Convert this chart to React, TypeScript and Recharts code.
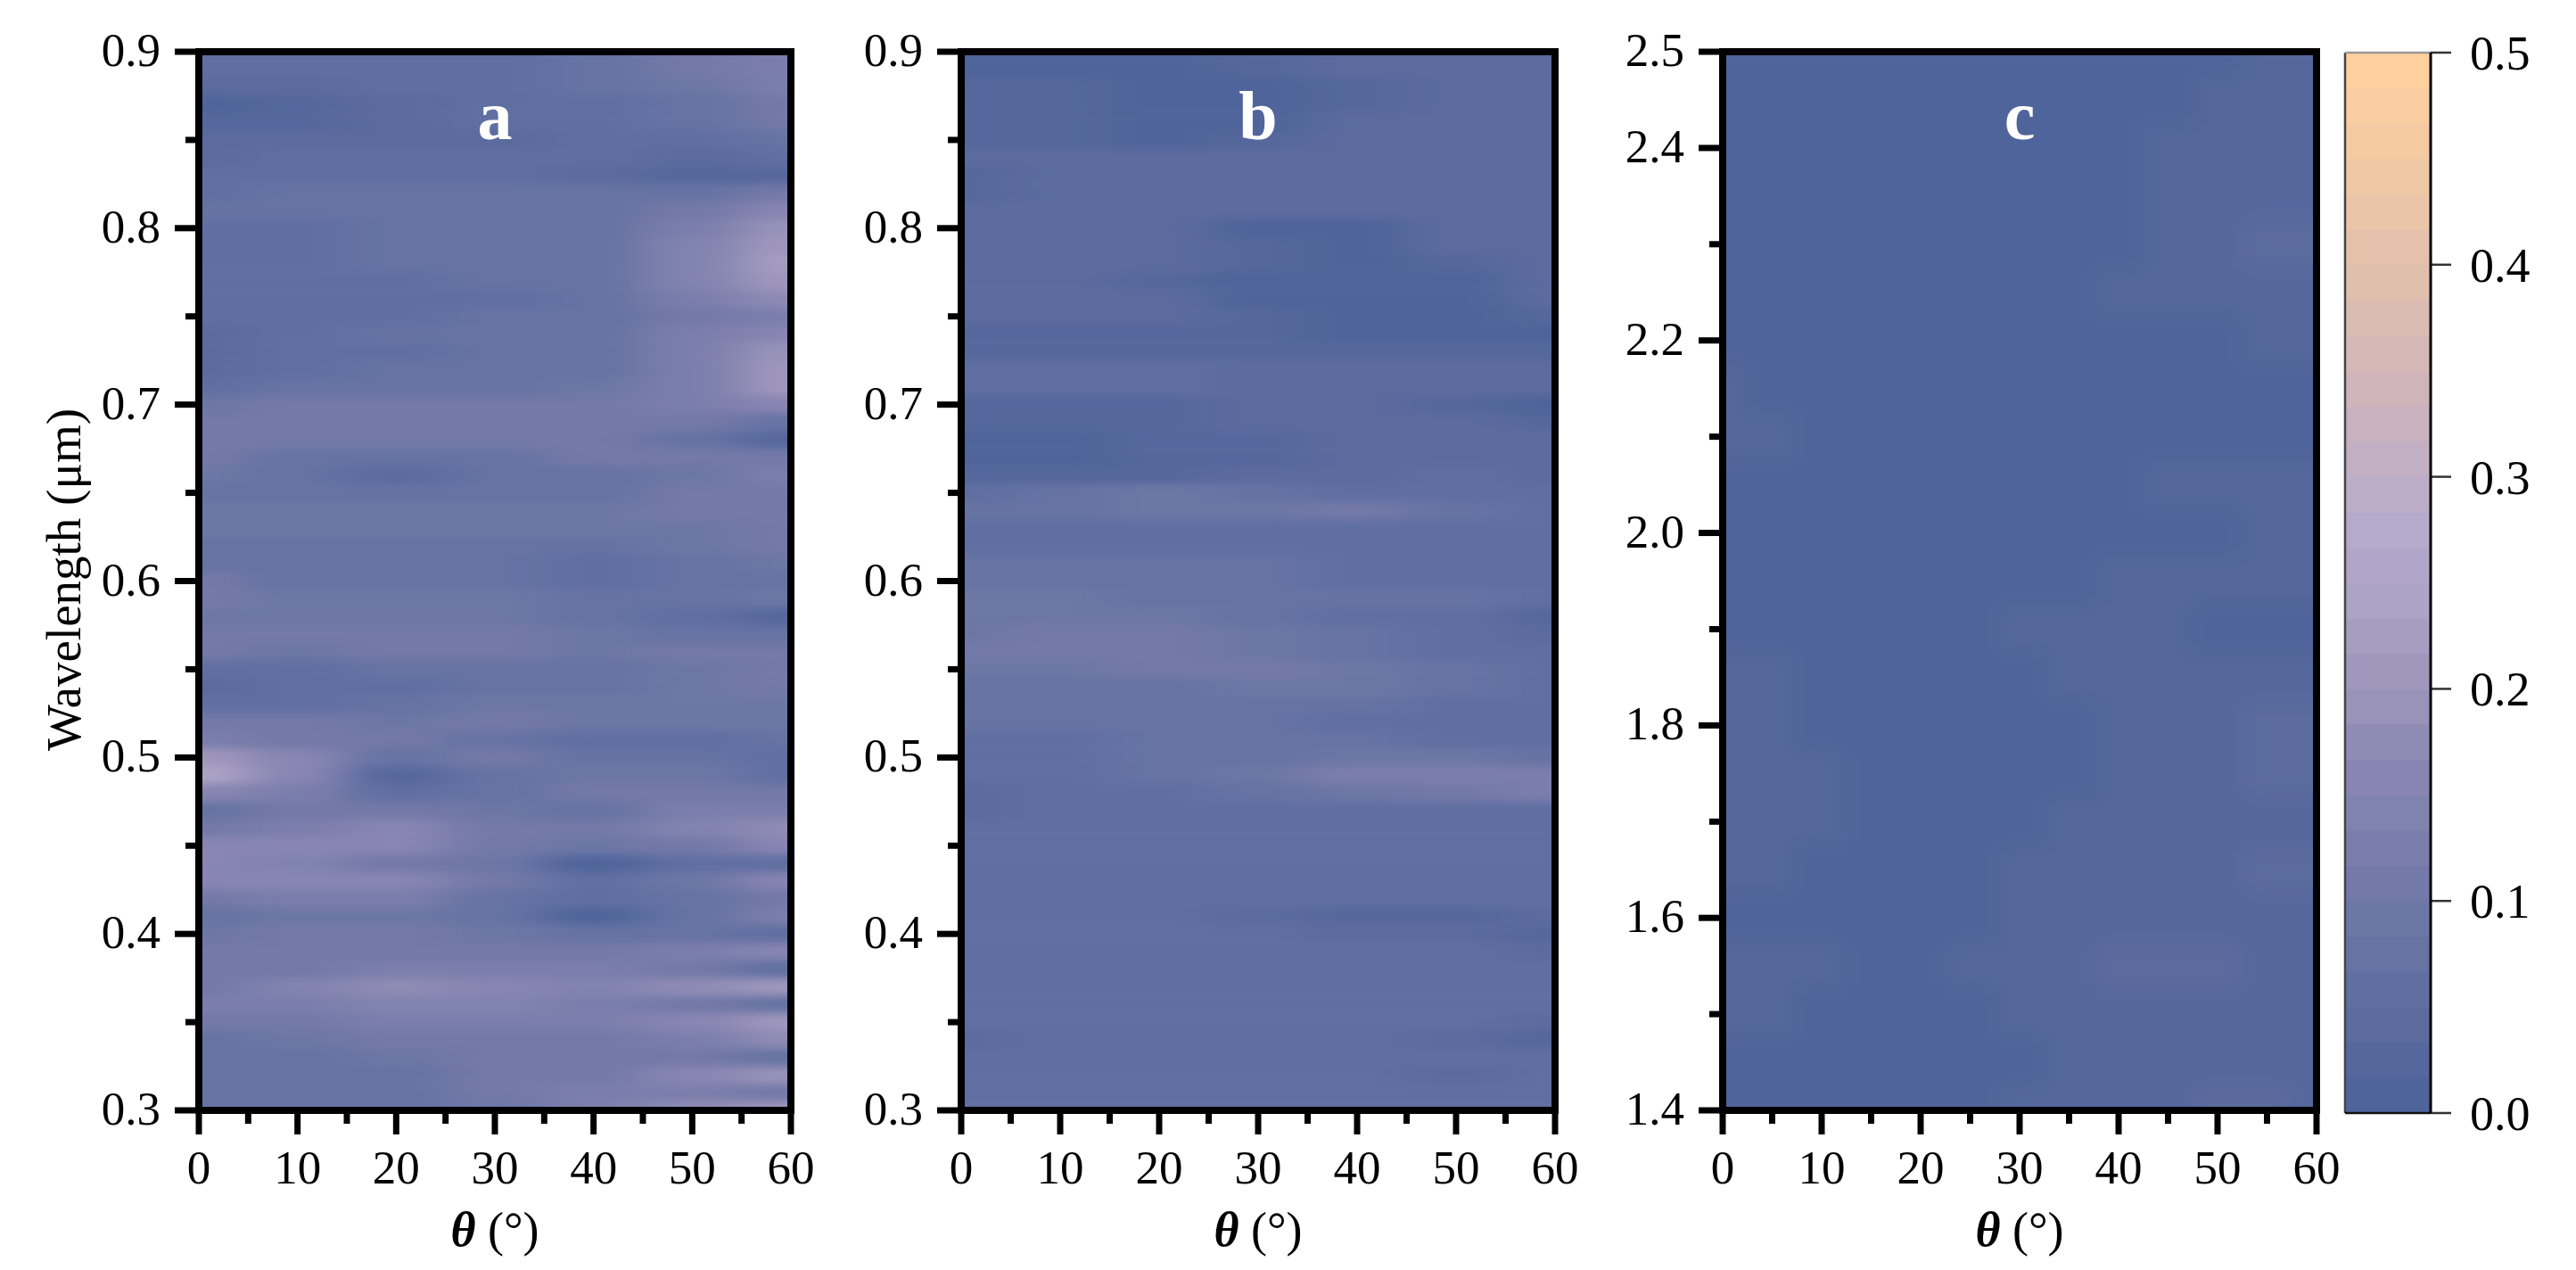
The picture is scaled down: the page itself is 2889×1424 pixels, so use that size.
// App.tsx - three angular reflectance contour maps with a shared colour scale
import React from 'react';
import { ScatterChart, Scatter, BarChart, Bar, XAxis, YAxis } from 'recharts';

const FONT = '"Liberation Serif", serif';

// colour scale, bottom to top, 30 levels between 0 and 0.5
const colorLevels = [
  '#4f649b', '#55679c', '#5b6b9e', '#606fa1', '#6673a3', '#6d77a6', '#7379a8', '#7b7eac', '#8183af', '#8885b2',
  '#8f8bb5', '#9993b9', '#a097bd', '#a69dc1', '#ada3c6', '#b1a6ca', '#b7a9cb', '#bcadc9', '#c3afc3', '#c9b1bf',
  '#cfb4ba', '#d6b8b6', '#dbbcb2', '#e0bfae', '#e5c1ab', '#eac5a8', '#efc8a5', '#f4caa2', '#f9cda0', '#fdd09d',
];
const scaleTicks = [0, 0.1, 0.2, 0.3, 0.4, 0.5];

const thetaTicks = [0, 5, 10, 15, 20, 25, 30, 35, 40, 45, 50, 55, 60];
const thetaLabels = [0, 10, 20, 30, 40, 50, 60];

const visTicks = [0.3, 0.35, 0.4, 0.45, 0.5, 0.55, 0.6, 0.65, 0.7, 0.75, 0.8, 0.85, 0.9];
const visLabels = [0.3, 0.4, 0.5, 0.6, 0.7, 0.8, 0.9];
const nirTicks = [1.4, 1.5, 1.6, 1.7, 1.8, 1.9, 2.0, 2.1, 2.2, 2.3, 2.4, 2.5];
const nirLabels = [1.4, 1.6, 1.8, 2.0, 2.2, 2.4, 2.5];

// panel a: rows from 0.90 down to 0.30 um, columns theta 0..60, values in percent
const thetaA = [0, 10, 20, 30, 40, 50, 60];
const wavelengthA = [
  0.9, 0.89, 0.88, 0.87, 0.86, 0.85, 0.84, 0.83, 0.82, 0.81, 0.8, 0.79, 0.78, 0.77, 0.76, 0.75, 0.74, 0.73, 0.72, 0.71,
  0.7, 0.69, 0.68, 0.67, 0.66, 0.65, 0.64, 0.63, 0.62, 0.61, 0.6, 0.59, 0.58, 0.57, 0.56, 0.55, 0.54, 0.53, 0.52, 0.51,
  0.5, 0.49, 0.48, 0.47, 0.46, 0.45, 0.44, 0.43, 0.42, 0.41, 0.4, 0.39, 0.38, 0.37, 0.36, 0.35, 0.34, 0.33, 0.32, 0.31, 0.3,
];
const valuesA = [
  [5, 5, 5, 6, 7, 10, 13], [5, 5, 5, 6, 7, 10, 13], [4, 4, 5, 5, 7, 9, 12], [1, 2, 4, 5, 6, 8, 11], [3, 3, 4, 5, 5, 7, 10],
  [4, 4, 4, 4, 5, 6, 8], [4, 5, 5, 5, 5, 4, 5], [6, 6, 6, 6, 4, 3, 2], [6, 7, 7, 7, 7, 8, 11], [7, 7, 7, 7, 7, 11, 16],
  [6, 6, 7, 7, 7, 13, 19], [5, 6, 7, 7, 7, 14, 21], [5, 6, 7, 7, 7, 14, 22], [6, 6, 6, 7, 7, 14, 21], [5, 6, 6, 6, 7, 12, 17],
  [5, 6, 6, 7, 8, 10, 13], [4, 6, 7, 7, 8, 12, 16], [4, 5, 6, 7, 8, 13, 19], [4, 6, 7, 7, 7, 12, 20], [6, 7, 8, 8, 9, 13, 20],
  [9, 10, 10, 10, 11, 13, 16], [11, 10, 10, 10, 11, 10, 8], [11, 11, 10, 10, 10, 8, 3], [10, 8, 7, 8, 10, 10, 11], [9, 7, 4, 7, 8, 9, 12],
  [8, 8, 7, 7, 8, 10, 10], [9, 9, 9, 9, 9, 10, 10], [9, 9, 9, 9, 9, 9, 10], [7, 7, 7, 8, 7, 9, 10], [8, 7, 7, 7, 6, 8, 9],
  [10, 8, 8, 7, 6, 8, 8], [10, 9, 9, 9, 8, 8, 9], [9, 9, 9, 9, 8, 5, 3], [10, 10, 10, 10, 9, 8, 8], [10, 9, 10, 10, 9, 10, 10],
  [5, 5, 7, 7, 8, 9, 10], [4, 5, 6, 7, 8, 9, 10], [6, 6, 8, 9, 9, 9, 9], [10, 10, 9, 10, 9, 9, 9], [13, 11, 10, 8, 6, 6, 7],
  [21, 15, 8, 10, 8, 7, 6], [24, 15, 3, 8, 9, 9, 6], [15, 13, 6, 7, 10, 10, 11], [8, 10, 10, 9, 7, 12, 13], [11, 13, 15, 10, 10, 14, 18],
  [16, 16, 15, 11, 9, 10, 15], [16, 14, 11, 9, 1, 6, 5], [16, 16, 16, 10, 5, 9, 15], [11, 13, 12, 8, 5, 8, 11], [8, 9, 9, 7, 1, 7, 12],
  [9, 10, 10, 9, 7, 8, 5], [10, 11, 11, 11, 10, 12, 15], [11, 11, 12, 12, 12, 10, 6], [11, 14, 17, 16, 14, 17, 21], [12, 13, 14, 14, 13, 11, 7],
  [10, 11, 12, 12, 12, 15, 20], [7, 9, 10, 11, 11, 12, 17], [7, 8, 9, 11, 11, 10, 8], [7, 7, 8, 10, 10, 15, 19], [7, 8, 8, 10, 12, 12, 10],
  [7, 7, 8, 9, 13, 18, 21],
];

// panel b: same grid as panel a
const thetaB = [0, 10, 20, 30, 40, 50, 60];
const wavelengthB = wavelengthA;
const valuesB = [
  [1, 1, 1, 3, 4, 4, 4], [1, 1, 1, 2, 4, 4, 4], [3, 2, 1, 1, 3, 4, 4], [3, 2, 1, 1, 2, 4, 4], [3, 2, 1, 1, 4, 4, 4],
  [3, 2, 1, 2, 4, 4, 4], [4, 4, 4, 4, 4, 4, 4], [2, 4, 4, 4, 4, 4, 4], [3, 4, 4, 4, 4, 4, 4], [4, 4, 4, 4, 4, 4, 4],
  [4, 4, 4, 1, 1, 4, 4], [4, 4, 4, 3, 1, 4, 4], [4, 4, 4, 2, 1, 2, 4], [4, 4, 3, 1, 1, 1, 4], [4, 4, 4, 1, 1, 1, 4],
  [4, 4, 4, 2, 1, 1, 2], [3, 3, 3, 2, 1, 1, 1], [2, 2, 3, 3, 3, 3, 2], [6, 6, 5, 4, 4, 4, 4], [6, 6, 5, 4, 4, 4, 4],
  [3, 3, 3, 4, 4, 3, 1], [3, 3, 3, 4, 4, 4, 2], [1, 1, 2, 3, 4, 4, 4], [1, 1, 2, 3, 4, 4, 4], [2, 2, 3, 4, 4, 5, 4],
  [6, 8, 9, 8, 6, 6, 5], [7, 8, 9, 9, 10, 8, 6], [5, 6, 6, 6, 6, 6, 5], [6, 6, 6, 6, 5, 5, 5], [7, 8, 8, 7, 6, 5, 5],
  [7, 7, 7, 7, 6, 5, 5], [9, 9, 8, 8, 8, 7, 6], [9, 9, 9, 7, 6, 5, 3], [9, 10, 10, 9, 7, 5, 4], [10, 11, 11, 9, 8, 6, 5],
  [9, 9, 10, 10, 9, 7, 5], [7, 8, 8, 9, 9, 8, 6], [7, 7, 8, 8, 8, 6, 5], [8, 7, 8, 8, 6, 6, 5], [5, 6, 8, 8, 8, 6, 6],
  [5, 5, 7, 8, 9, 9, 8], [5, 5, 7, 9, 12, 13, 13], [4, 5, 6, 7, 9, 11, 12], [4, 5, 5, 5, 6, 6, 6], [5, 5, 5, 5, 5, 5, 5],
  [5, 5, 5, 5, 5, 5, 5], [6, 6, 5, 5, 5, 6, 6], [6, 6, 6, 5, 6, 6, 6], [5, 5, 5, 5, 5, 5, 5], [5, 5, 5, 4, 3, 3, 4],
  [5, 5, 5, 5, 4, 4, 3], [5, 5, 5, 5, 5, 5, 4], [5, 5, 5, 5, 5, 5, 5], [6, 6, 6, 5, 5, 5, 5], [5, 6, 5, 5, 5, 5, 5],
  [5, 5, 5, 5, 5, 5, 4], [4, 5, 5, 5, 5, 4, 3], [5, 5, 5, 5, 5, 5, 5], [5, 5, 5, 5, 5, 4, 5], [6, 5, 5, 5, 5, 5, 5],
  [6, 5, 5, 5, 5, 5, 5],
];

// panel c: rows from 2.50 down to 1.40 um, columns every 5 degrees
const thetaC = thetaTicks;
const wavelengthC = [2.5, 2.45, 2.4, 2.35, 2.3, 2.25, 2.2, 2.15, 2.1, 2.05, 2.0, 1.95, 1.9, 1.85, 1.8, 1.75, 1.7, 1.65, 1.6, 1.55, 1.5, 1.45, 1.4];
const valuesC = [
  [1, 1, 1, 1, 1, 1, 1, 1, 1, 1, 1, 3, 3],
  [1, 1, 1, 1, 1, 1, 1, 1, 1, 1, 3, 3, 3],
  [1, 1, 1, 1, 1, 1, 1, 1, 1, 3, 3, 3, 3],
  [1, 1, 1, 1, 1, 1, 1, 1, 1, 3, 3, 3, 3],
  [1, 1, 1, 1, 1, 1, 1, 1, 1, 3, 3, 4, 4],
  [1, 1, 1, 1, 1, 1, 1, 1, 3, 3, 3, 3, 3],
  [1, 1, 1, 1, 1, 1, 1, 1, 1, 1, 1, 3, 3],
  [3, 1, 1, 1, 1, 1, 1, 1, 1, 1, 1, 1, 1],
  [3, 3, 1, 1, 1, 1, 1, 1, 1, 1, 1, 1, 1],
  [1, 1, 1, 1, 1, 1, 1, 1, 1, 3, 3, 3, 3],
  [1, 1, 1, 1, 1, 1, 1, 1, 1, 1, 1, 3, 3],
  [1, 1, 1, 1, 1, 1, 1, 1, 3, 3, 3, 3, 3],
  [1, 1, 1, 1, 1, 1, 3, 3, 3, 3, 1, 1, 1],
  [3, 3, 1, 1, 1, 1, 1, 3, 3, 3, 3, 3, 3],
  [3, 3, 1, 1, 1, 1, 1, 1, 3, 3, 3, 4, 4],
  [3, 3, 3, 1, 1, 1, 1, 1, 3, 3, 3, 4, 4],
  [3, 3, 3, 1, 1, 1, 1, 3, 3, 3, 3, 3, 3],
  [3, 3, 1, 1, 1, 1, 3, 3, 3, 3, 3, 4, 4],
  [1, 1, 1, 1, 1, 1, 3, 3, 3, 3, 3, 3, 3],
  [3, 3, 3, 1, 1, 3, 3, 3, 4, 4, 4, 3, 3],
  [3, 3, 1, 1, 1, 1, 3, 3, 3, 3, 3, 3, 3],
  [1, 1, 1, 1, 1, 1, 1, 3, 3, 3, 3, 3, 3],
  [1, 1, 1, 1, 1, 1, 3, 3, 3, 3, 4, 4, 3],
];

const colorFor = (percent: number) => colorLevels[Math.min(colorLevels.length - 1, Math.floor((percent / 100) * 2 * colorLevels.length))];

const PLOT_TOP = 58;
const PLOT_H = 1187;
const MARGIN_TOP = 40;
const AXIS_W = 215;
const AXIS_H = 170;
const MARGIN_RIGHT = 45;

const XTick = (props: any) => {
  const { x, y, payload } = props;
  const major = thetaLabels.includes(payload.value);
  return (
    <g>
      <line x1={x} x2={x} y1={y} y2={y + (major ? 27 : 15)} stroke="#000" strokeWidth={7} />
      {major && (
        <text x={x} y={y + 82} textAnchor="middle" fontSize={53} fontFamily={FONT} fill="#000">
          {payload.value}
        </text>
      )}
    </g>
  );
};

const yTick = (labels: number[]) => (props: any) => {
  const { x, y, payload } = props;
  const major = labels.some((l) => Math.abs(l - payload.value) < 1e-6);
  return (
    <g>
      <line x1={x - (major ? 27 : 15)} x2={x} y1={y} y2={y} stroke="#000" strokeWidth={7} />
      {major && (
        <text x={x - 43} y={y + 16} textAnchor="end" fontSize={53} fontFamily={FONT} fill="#000">
          {payload.value.toFixed(1)}
        </text>
      )}
    </g>
  );
};

interface PanelProps {
  id: string;
  left: number;
  plotW: number;
  thetas: number[];
  wavelengths: number[];
  values: number[][];
  yTicks: number[];
  yLabels: number[];
  letter: string;
  blur: string;
  yTitle?: boolean;
}

const Panel: React.FC<PanelProps> = ({ id, left, plotW, thetas, wavelengths, values, yTicks, yLabels, letter, blur, yTitle }) => {
  const width = AXIS_W + plotW + MARGIN_RIGHT;
  const height = MARGIN_TOP + PLOT_H + AXIS_H;
  const yMin = wavelengths[wavelengths.length - 1];
  const yMax = wavelengths[0];
  const cellW = (plotW * (thetas[1] - thetas[0])) / 60;
  const cellH = (PLOT_H * (wavelengths[0] - wavelengths[1])) / (yMax - yMin);

  const cells = wavelengths.flatMap((wl, r) =>
    thetas.map((theta, c) => ({ theta, wl, value: values[r][c], r, c })),
  );

  // cells on the border run past the plot so the softening does not fade at the edge
  const renderCell = (props: any) => {
    const { cx, cy, payload } = props;
    const pad = 120;
    const x0 = cx - cellW / 2 - (payload.c === 0 ? pad : 0);
    const x1 = cx + cellW / 2 + (payload.c === thetas.length - 1 ? pad : 0);
    const y0 = cy - cellH / 2 - (payload.r === 0 ? pad : 0);
    const y1 = cy + cellH / 2 + (payload.r === wavelengths.length - 1 ? pad : 0);
    return <rect x={x0} y={y0} width={x1 - x0 + 0.5} height={y1 - y0 + 0.5} fill={colorFor(payload.value)} />;
  };

  return (
    <div className={`heat-${id}`} style={{ position: 'absolute', left: left - AXIS_W, top: PLOT_TOP - MARGIN_TOP, width, height }}>
      <style>{`.heat-${id} .recharts-scatter { filter: url(#soft-${id}); clip-path: url(#plot-${id}); }`}</style>
      <ScatterChart width={width} height={height} margin={{ top: MARGIN_TOP, right: MARGIN_RIGHT, bottom: 0, left: 0 }}>
        <defs>
          <filter id={`soft-${id}`} filterUnits="userSpaceOnUse" x={0} y={0} width={width} height={height} colorInterpolationFilters="sRGB">
            <feGaussianBlur stdDeviation={blur} />
          </filter>
          <clipPath id={`plot-${id}`}>
            <rect x={AXIS_W} y={MARGIN_TOP} width={plotW} height={PLOT_H} />
          </clipPath>
        </defs>
        <XAxis
          type="number"
          dataKey="theta"
          domain={[0, 60]}
          ticks={thetaTicks}
          interval={0}
          height={AXIS_H}
          axisLine={false}
          tickLine={false}
          tickSize={0}
          tickMargin={0}
          tick={XTick}
        />
        <YAxis
          type="number"
          dataKey="wl"
          domain={[yMin, yMax]}
          ticks={yTicks}
          interval={0}
          width={AXIS_W}
          axisLine={false}
          tickLine={false}
          tickSize={0}
          tickMargin={0}
          tick={yTick(yLabels)}
        />
        <Scatter data={cells} shape={renderCell} isAnimationActive={false} />
      </ScatterChart>
      {/* frame, panel letter and axis titles sit in their own layer above the series */}
      <svg width={width} height={height} style={{ position: 'absolute', left: 0, top: 0, pointerEvents: 'none' }}>
        <rect x={AXIS_W} y={MARGIN_TOP} width={plotW} height={PLOT_H} fill="none" stroke="#000" strokeWidth={8} />
        <text x={AXIS_W + plotW / 2} y={98 + MARGIN_TOP} textAnchor="middle" fontSize={78} fontWeight="bold" fontFamily={FONT} fill="#fff">
          {letter}
        </text>
        <text x={AXIS_W + plotW / 2} y={1397 - PLOT_TOP + MARGIN_TOP} textAnchor="middle" fontSize={54} fontFamily={FONT} fill="#000">
          <tspan fontStyle="italic" fontWeight="bold">θ</tspan> (°)
        </text>
        {yTitle && (
          <text
            transform={`translate(${72 - (left - AXIS_W) + 18},${650 - PLOT_TOP + MARGIN_TOP}) rotate(-90)`}
            textAnchor="middle"
            fontSize={55}
            fontFamily={FONT}
            fill="#000"
          >
            Wavelength (μm)
          </text>
        )}
      </svg>
    </div>
  );
};

const ScaleTick = (props: any) => {
  const { x, y, payload } = props;
  return (
    <g>
      <line x1={x} x2={x + 23} y1={y} y2={y} stroke="#333" strokeWidth={2.5} />
      <text x={x + 44} y={y + 19} fontSize={54} fontFamily={FONT} fill="#000">
        {payload.value.toFixed(1)}
      </text>
    </g>
  );
};

const scaleRow = colorLevels.reduce((row: Record<string, number | string>, _c, i) => {
  row[`level${i}`] = 0.5 / colorLevels.length;
  return row;
}, { name: 'scale' });

const ColorScale: React.FC = () => (
  <div style={{ position: 'absolute', left: 2620, top: 19, width: 269, height: 1269 }}>
    <BarChart width={269} height={1269} data={[scaleRow]} barCategoryGap={0} margin={{ top: 40, right: 0, bottom: 40, left: 10 }}>
      <XAxis dataKey="name" hide />
      <YAxis
        type="number"
        orientation="right"
        domain={[0, 0.5]}
        ticks={scaleTicks}
        interval={0}
        width={163}
        axisLine={false}
        tickLine={false}
        tickSize={0}
        tickMargin={0}
        tick={ScaleTick}
      />
      {colorLevels.map((color, i) => (
        <Bar key={color} dataKey={`level${i}`} stackId="scale" fill={color} stroke={color} strokeWidth={1} isAnimationActive={false} />
      ))}
    </BarChart>
    <svg width={269} height={1269} style={{ position: 'absolute', left: 0, top: 0, pointerEvents: 'none' }}>
      <line x1={10} x2={10} y1={40} y2={1229} stroke="#444" strokeWidth={2.5} />
      <line x1={10} x2={106} y1={40} y2={40} stroke="#999" strokeWidth={2.5} />
      <line x1={10} x2={106} y1={1229} y2={1229} stroke="#111" strokeWidth={2.5} />
      <line x1={106} x2={106} y1={40} y2={1229} stroke="#000" strokeWidth={3} />
    </svg>
  </div>
);

export default function App() {
  return (
    <div style={{ position: 'absolute', left: 0, top: 0, width: 2889, height: 1424, background: '#fff', overflow: 'hidden' }}>
      <Panel id="a" left={223} plotW={664} thetas={thetaA} wavelengths={wavelengthA} values={valuesA} yTicks={visTicks} yLabels={visLabels} letter="a" blur="28 5" yTitle />
      <Panel id="b" left={1078} plotW={666} thetas={thetaB} wavelengths={wavelengthB} values={valuesB} yTicks={visTicks} yLabels={visLabels} letter="b" blur="28 4" />
      <Panel id="c" left={1932} plotW={666} thetas={thetaC} wavelengths={wavelengthC} values={valuesC} yTicks={nirTicks} yLabels={nirLabels} letter="c" blur="14 12" />
      <ColorScale />
    </div>
  );
}
